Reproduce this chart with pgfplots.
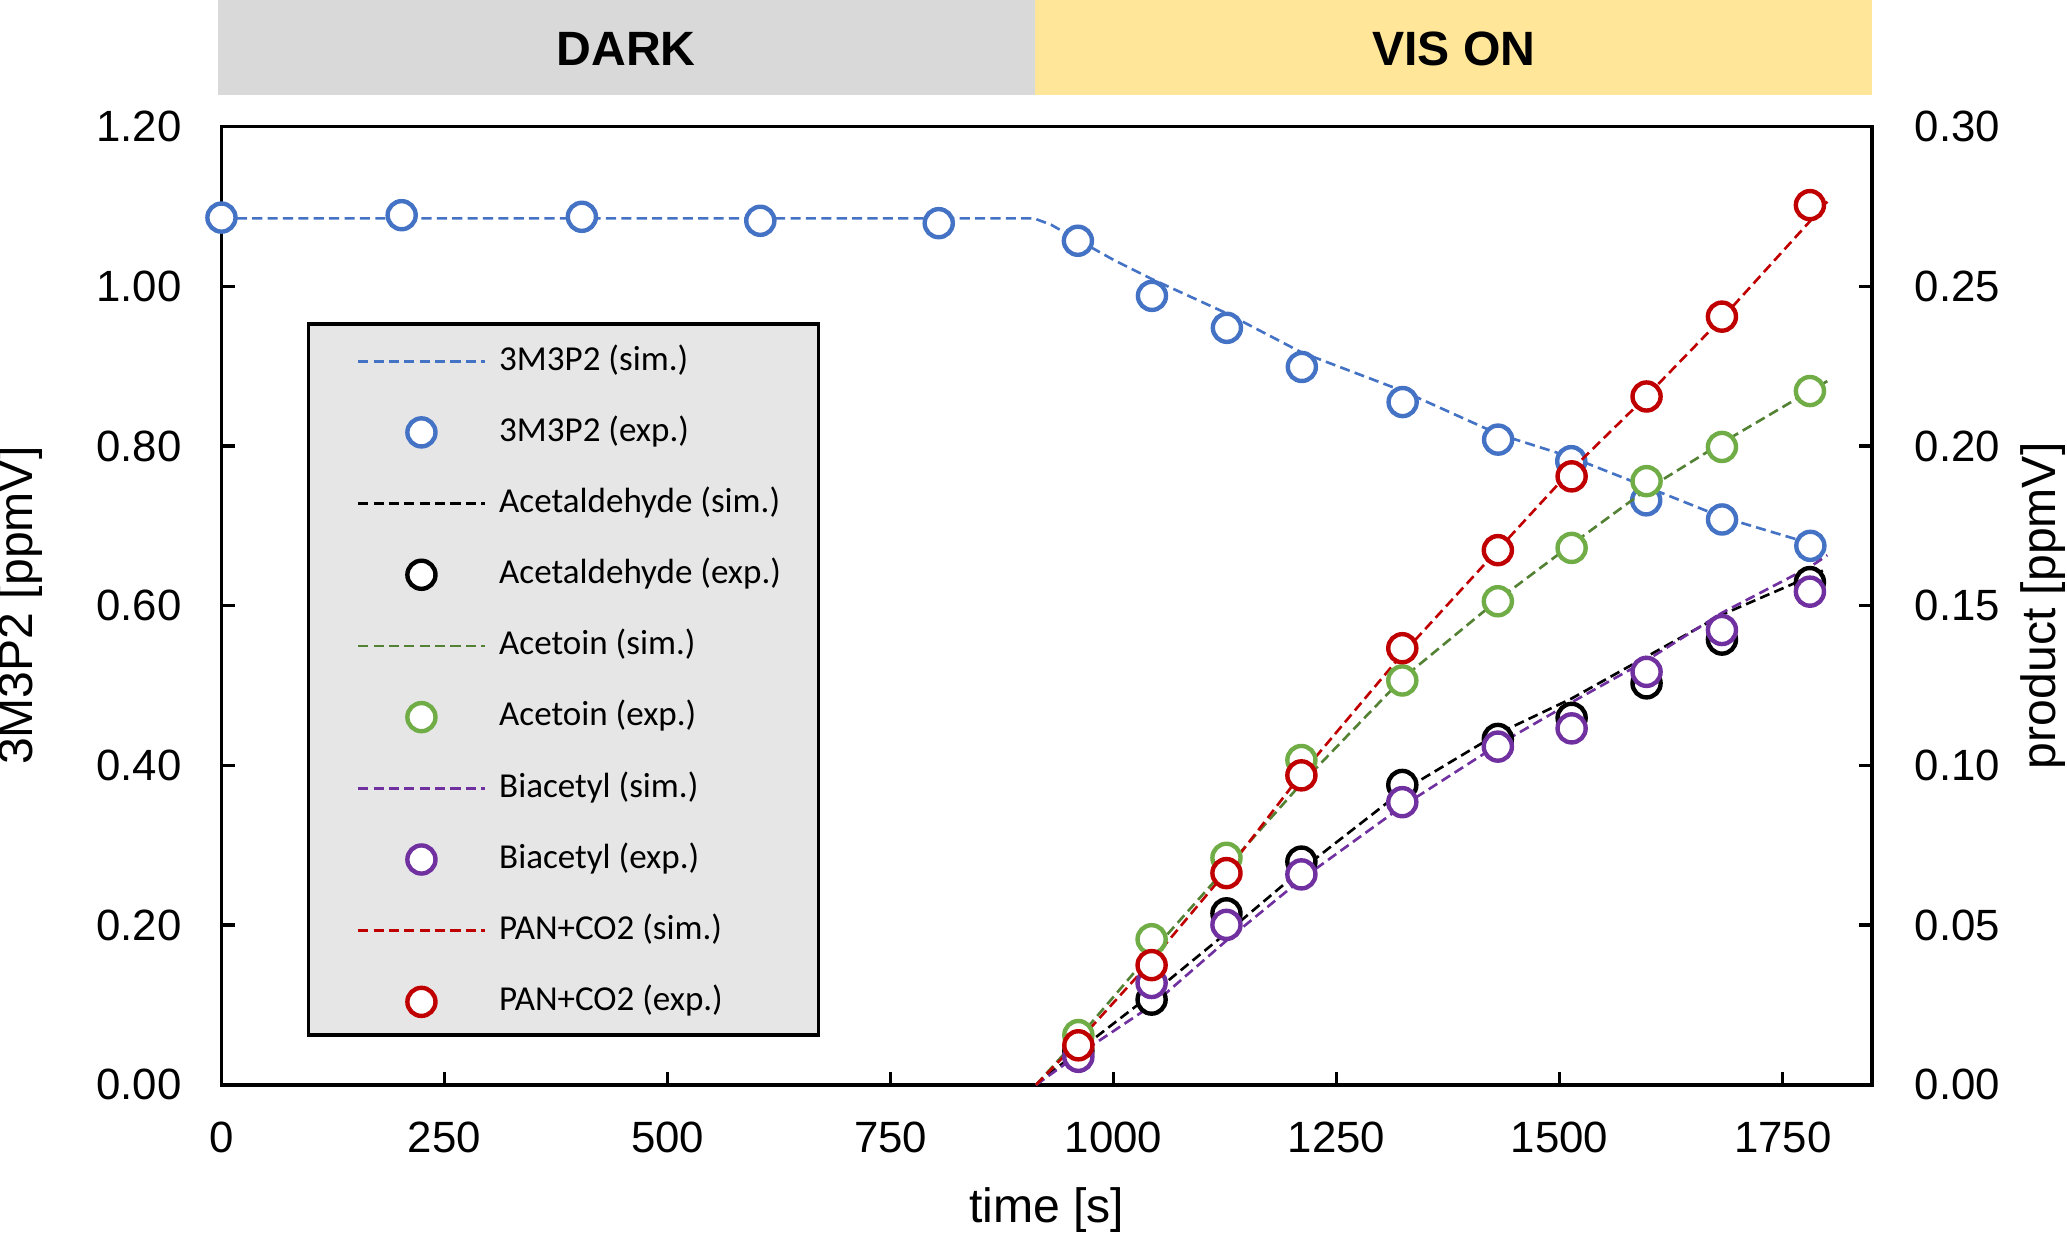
\documentclass[border=0pt]{standalone}
\usepackage{fontspec}
\setmainfont{Liberation Sans}
\newfontfamily\carlito{Carlito}
\usepackage{pgfplots}
\pgfplotsset{compat=1.18}
\definecolor{c3m}{HTML}{4472C4}
\definecolor{cred}{HTML}{C00000}
\definecolor{cgexp}{HTML}{70AD47}
\definecolor{cgsim}{HTML}{548235}
\definecolor{cpur}{HTML}{7030A0}
\definecolor{darkbanner}{HTML}{D9D9D9}
\definecolor{visbanner}{HTML}{FFE699}
\definecolor{legfill}{HTML}{E6E6E6}
\pgfplotsset{
  simstyle/.style={dash pattern=on 2.3bp off 1.2bp, line width=0.6bp, no marks,
    legend image code/.code={\draw[##1] (0bp,0bp) -- (28.8bp,0bp);}},
  expstyle/.style={only marks, mark=*, mark size=3.2bp, mark options={line width=1.0bp, fill=white, solid},
    legend image code/.code={\draw[mark repeat=2, mark phase=2, ##1] plot coordinates {(0bp,0bp) (14.4bp,0bp) (28.8bp,0bp)};}},
  common/.style={
    scale only axis, width=375.6bp, height=218.1bp,
    xmin=0, xmax=1850,
    tick align=inside, major tick length=3bp,
    every tick/.style={black, line width=0.8bp},
    axis line style={line width=0.8bp},
    /pgf/number format/assume math mode=true,
    tick label style={font=\fontsize{10}{12}\selectfont, inner sep=0pt},
    label style={font=\fontsize{11}{13}\selectfont},
    clip=false,
  }
}
\begin{document}
\begin{tikzpicture}
\path[use as bounding box] (-50.4bp,-34.5bp) rectangle (420bp,246.9bp);
\begin{axis}[common,
  ymin=0, ymax=1.2,
  xtick={0,250,500,750,1000,1250,1500,1750},
  ytick={0,0.2,0.4,0.6,0.8,1.0,1.2},
  xtick pos=bottom, ytick pos=left,
  xticklabel style={/pgf/number format/.cd, fixed, precision=0, 1000 sep={}, /tikz/.cd, yshift=-8.2bp},
  yticklabel style={/pgf/number format/.cd, fixed, fixed zerofill, precision=2, /tikz/.cd, xshift=-8.9bp},
  xlabel={time [s]}, ylabel={3M3P2 [ppmV]},
  xlabel style={at={(axis description cs:0.5,-0.1307)}, anchor=center},
  ylabel style={at={(axis description cs:-0.1222,0.5)}, anchor=center},
]
\fill[darkbanner] (rel axis cs:-0.0024,1.033) rectangle (rel axis cs:0.4928,1.132);
\fill[visbanner] (rel axis cs:0.4928,1.033) rectangle (rel axis cs:1,1.132);
\node[font=\fontsize{11}{13}\selectfont\bfseries] at (rel axis cs:0.2452,1.0812) {DARK};
\node[font=\fontsize{11}{13}\selectfont\bfseries] at (rel axis cs:0.7468,1.0812) {VIS ON};
\fill[legfill, draw=black, line width=0.8bp] (rel axis cs:0.0527,0.7937) rectangle (rel axis cs:0.3618,0.0523);
\addplot[c3m, simstyle] coordinates {
(0,1.085) (911,1.085) (930,1.077) (960,1.058) (1000,1.033) (1043,1.009) (1127,0.966)
(1211,0.917) (1324,0.869) (1431,0.815) (1513,0.786) (1597,0.749) (1682,0.711) (1781,0.678) (1795,0.674)};
\addplot[c3m, expstyle] coordinates {
(0,1.086) (202,1.089) (404,1.087) (604,1.082) (804,1.079) (960,1.057) (1043,0.988) (1127,0.948)
(1211,0.899) (1324,0.855) (1431,0.808) (1513,0.781) (1597,0.732) (1682,0.708) (1781,0.675)};
\end{axis}
\begin{axis}[common,
  axis x line=none, axis y line*=right,
  ymin=0, ymax=0.3,
  ytick={0,0.05,0.1,0.15,0.2,0.25,0.3},
  yticklabel style={/pgf/number format/.cd, fixed, fixed zerofill, precision=2, /tikz/.cd, xshift=9.6bp},
  ylabel={product [ppmV]},
  ylabel style={at={(axis description cs:1.1038,0.5)}, anchor=center, rotate=0},
  legend style={at={(axis description cs:0.0815,0.7744)}, anchor=north west,
    draw=none, fill=none, inner sep=0pt, row sep=8.2bp,
    font=\carlito\fontsize{8}{9.6}\selectfont,
    nodes={inner xsep=3bp, inner ysep=0pt, text height=6bp, text depth=2bp}},
  legend cell align=left,
]
\addlegendimage{c3m, simstyle}
\addlegendentry{3M3P2 (sim.)}
\addlegendimage{c3m, expstyle}
\addlegendentry{3M3P2 (exp.)}
\addplot[black, simstyle] coordinates {
(913,0) (960,0.0106) (1043,0.0285) (1127,0.0477) (1211,0.0675) (1324,0.0921) (1431,0.110)
(1513,0.1209) (1597,0.134) (1682,0.1472) (1781,0.1592) (1795,0.161)};
\addlegendentry{Acetaldehyde (sim.)}
\addplot[black, expstyle] coordinates {
(960.5,0.0106) (1042.6,0.0267) (1126.5,0.0537) (1210.5,0.0699) (1323.6,0.0939) (1430.7,0.1083)
(1513.4,0.1149) (1597.4,0.1257) (1681.9,0.1394) (1780.5,0.1574)};
\addlegendentry{Acetaldehyde (exp.)}
\addplot[cgsim, simstyle] coordinates {
(913,0) (960,0.0145) (1043,0.0417) (1127,0.0681) (1211,0.0945) (1324,0.1273) (1431,0.1519)
(1513,0.1691) (1597,0.1863) (1682,0.201) (1781,0.2173) (1800,0.2203)};
\addlegendentry{Acetoin (sim.)}
\addplot[cgexp, expstyle] coordinates {
(960.5,0.0156) (1042.6,0.0456) (1126.5,0.0711) (1210.5,0.1017) (1323.6,0.1266) (1430.7,0.1514)
(1513.4,0.1681) (1597.4,0.189) (1681.9,0.1997) (1780.5,0.2172)};
\addlegendentry{Acetoin (exp.)}
\addplot[cpur, simstyle] coordinates {
(913,0) (960,0.0094) (1043,0.0249) (1127,0.0453) (1211,0.0645) (1324,0.0873) (1431,0.1065)
(1513,0.1197) (1597,0.1328) (1682,0.1478) (1781,0.1622) (1800,0.1658)};
\addlegendentry{Biacetyl (sim.)}
\addplot[cpur, expstyle] coordinates {
(960.5,0.0088) (1042.6,0.0319) (1126.5,0.0501) (1210.5,0.0659) (1323.6,0.0885) (1430.7,0.1059)
(1513.4,0.1116) (1597.4,0.1293) (1681.9,0.1424) (1780.5,0.1544)};
\addlegendentry{Biacetyl (exp.)}
\addplot[cred, simstyle] coordinates {
(913,0) (960,0.0135) (1043,0.039) (1127,0.067) (1211,0.0975) (1324,0.135) (1431,0.1676)
(1513,0.1925) (1597,0.2155) (1682,0.240) (1781,0.2705) (1800,0.2765)};
\addlegendentry{PAN+CO2 (sim.)}
\addplot[cred, expstyle] coordinates {
(960.5,0.0124) (1042.6,0.0375) (1126.5,0.0663) (1210.5,0.0969) (1323.6,0.1367) (1430.7,0.1674)
(1513.4,0.1905) (1597.4,0.2155) (1681.9,0.2405) (1780.5,0.2754)};
\addlegendentry{PAN+CO2 (exp.)}
\end{axis}
\end{tikzpicture}
\end{document}
